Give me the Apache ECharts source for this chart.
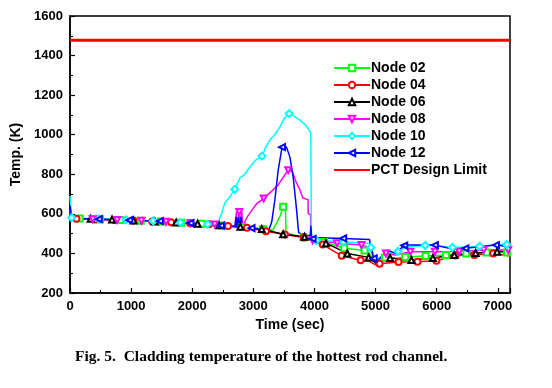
<!DOCTYPE html>
<html><head><meta charset="utf-8">
<script src="https://cdn.jsdelivr.net/npm/echarts@6/dist/echarts.min.js"></script>
<style>html,body{margin:0;padding:0;background:#fff}#c{width:552px;height:388px}</style>
</head><body><div id="c"></div>
<script>
// ---- data (time s, temperature K) ----
const seriesNames = ['Node 02','Node 04','Node 06','Node 08','Node 10','Node 12','PCT Design Limit'];
const xTicks = [0,1000,2000,3000,4000,5000,6000,7000];
const yTicks = [200,400,600,800,1000,1200,1400,1600];
const pctLimit = 1478;

// marker spacing / offset for each node (Origin "skip points")
const markerStep   = [333, 310, 350, 400, 445, 500];
const markerOffset = [158, 106, 338, 370, 27, 470];

const node02 = [[0,605],[30,576],[158,576],[491,573],[824,569],[1157,565],[1490,561],[1823,555],[2156,550],[2489,541],[2822,533],[3155,522],[3320,518],[3440,590],[3488,636],[3525,632],[3535,505],[3700,490],[3821,482],[3950,468],[4154,458],[4487,426],[4820,415],[4900,400],[5000,348],[5153,378],[5320,375],[5486,382],[5819,387],[6152,392],[6485,400],[6818,405],[7151,405],[7200,405]];
const node04 = [[0,595],[30,574],[106,575],[416,572],[726,569],[1036,566],[1346,562],[1656,557],[1966,552],[2276,547],[2586,538],[2896,530],[3206,512],[3516,496],[3826,480],[4136,445],[4446,388],[4756,366],[4900,360],[5000,342],[5066,348],[5376,357],[5686,358],[5996,363],[6306,390],[6616,392],[6926,400],[7200,387]];
const node06 = [[0,600],[30,577],[338,575],[688,571],[1038,567],[1388,562],[1738,556],[2088,550],[2438,543],[2788,535],[3138,523],[3488,497],[3838,484],[3950,470],[4188,452],[4538,400],[4888,380],[5000,352],[5238,377],[5588,367],[5938,377],[6288,392],[6638,402],[6988,409],[7200,412]];
const node08 = [[0,620],[30,577],[370,573],[770,569],[1170,565],[1570,560],[1970,553],[2370,546],[2700,538],[2725,612],[2740,525],[2770,610],[2790,522],[2810,618],[2830,520],[2861,560],[2901,585],[2981,620],[3051,650],[3170,678],[3301,715],[3401,745],[3501,790],[3570,821],[3641,812],[3701,760],[3761,722],[3811,680],[3841,672],[3895,672],[3899,600],[3935,598],[3945,470],[3970,466],[4370,452],[4770,442],[4901,430],[5001,360],[5170,400],[5321,392],[5570,409],[5970,409],[6370,410],[6770,417],[7170,417],[7200,417]];
const node10 = [[0,690],[27,580],[472,574],[917,570],[1362,564],[1807,556],[2252,548],[2420,544],[2440,570],[2480,600],[2533,655],[2601,680],[2697,724],[2779,781],[2861,800],[2943,836],[3031,870],[3142,892],[3201,935],[3271,973],[3351,1000],[3434,1038],[3501,1080],[3587,1107],[3681,1090],[3763,1074],[3851,1050],[3893,1033],[3940,1008],[3951,472],[4032,466],[4477,458],[4901,450],[4922,430],[5001,365],[5201,410],[5321,398],[5367,410],[5501,432],[5812,440],[6001,440],[6257,430],[6501,432],[6702,436],[7001,445],[7147,445],[7200,442]];
const node12 = [[0,640],[30,578],[470,573],[970,568],[1470,563],[1970,553],[2470,540],[2701,535],[2715,585],[2725,530],[2755,583],[2765,530],[2801,585],[2811,530],[2970,528],[3251,515],[3301,560],[3352,670],[3407,821],[3470,937],[3541,938],[3598,888],[3652,787],[3708,619],[3741,505],[3851,490],[3931,490],[3941,540],[3955,480],[3970,474],[4470,476],[4901,470],[4911,455],[4970,375],[5001,352],[5201,417],[5321,400],[5470,440],[5511,442],[5970,442],[6276,421],[6470,426],[6970,442],[7200,434]];

const nodeData = [node02, node04, node06, node08, node10, node12];
const colors = ['#00ff00','#ff0000','#000000','#ff00ff','#00ffff','#0000ff','#ff0000'];
const symbols = ['emptyRect','emptyCircle','emptyTriangle','emptyTriangle','emptyDiamond','emptyTriangle'];
const rotations = [0,0,0,180,0,90];
const sizes = [6,6,6,6,7,6];

const chart = echarts.init(document.getElementById('c'), null, {renderer:'canvas'});
const series = nodeData.map((d, i) => ({
  name: seriesNames[i],
  type: 'line',
  symbol: symbols[i],
  symbolRotate: rotations[i],
  symbolSize: sizes[i],
  showAllSymbol: true,
  animation: false,
  lineStyle: {color: colors[i], width: 1.5},
  itemStyle: {color: colors[i], borderWidth: 1},
  data: d.map(p => {
    const isMark = Math.abs((p[0] - markerOffset[i]) % markerStep[i]) < 0.5;
    return isMark ? {value: p} : {value: p, symbol: 'none'};
  })
}));
series.push({
  name: seriesNames[6], type: 'line', symbol: 'none', animation: false,
  lineStyle: {color: colors[6], width: 3}, itemStyle: {color: colors[6]},
  data: [[0, pctLimit], [7200, pctLimit]]
});

const axisFont = {fontFamily: 'Liberation Sans, Arial', fontWeight: 'bold', fontSize: 13, color: '#000'};
chart.setOption({
  animation: false,
  grid: {left: 70, right: 42, top: 16, bottom: 95, show: true, borderColor: '#000', borderWidth: 1.5, backgroundColor: 'transparent'},
  legend: {
    orient: 'vertical', left: 328, top: 56, itemWidth: 36, itemHeight: 8, itemGap: 3,
    data: seriesNames.map((n, i) => i === 6 ? {name: n, itemStyle: {opacity: 0}} : {name: n}),
    textStyle: {fontFamily: 'Liberation Sans, Arial', fontWeight: 'bold', fontSize: 14, color: '#000', lineHeight: 12, padding: [0,0,0,-4]}
  },
  xAxis: {
    type: 'value', min: 0, max: 7200, interval: 1000,
    name: 'Time (sec)', nameLocation: 'middle', nameGap: 25,
    nameTextStyle: Object.assign({}, axisFont, {fontSize: 14}),
    axisLine: {lineStyle: {color: '#000', width: 1.5}},
    axisTick: {inside: true, length: 5, lineStyle: {color: '#000', width: 1.2}},
    minorTick: {show: true, splitNumber: 2, length: 3, lineStyle: {color: '#000', width: 1}},
    splitLine: {show: false},
    axisLabel: Object.assign({}, axisFont, {margin: 7, formatter: v => xTicks.includes(v) ? String(v) : ''})
  },
  yAxis: {
    type: 'value', min: 200, max: 1600, interval: 200,
    name: 'Temp. (K)', nameLocation: 'middle', nameGap: 46,
    nameTextStyle: Object.assign({}, axisFont, {fontSize: 14}),
    axisLine: {show: true, lineStyle: {color: '#000', width: 1.5}},
    axisTick: {show: true, inside: true, length: 5, lineStyle: {color: '#000', width: 1.2}},
    minorTick: {show: true, splitNumber: 2, length: 3, lineStyle: {color: '#000', width: 1}},
    splitLine: {show: false},
    axisLabel: Object.assign({}, axisFont, {margin: 7, formatter: v => yTicks.includes(v) ? String(v) : ''})
  },
  graphic: [{
    type: 'text', left: 75, top: 349,
    style: {text: 'Fig. 5.  Cladding temperature of the hottest rod channel.', font: 'bold 15.5px "Liberation Serif", "Times New Roman", serif', fill: '#000'}
  }],
  series: series
});
</script></body></html>
